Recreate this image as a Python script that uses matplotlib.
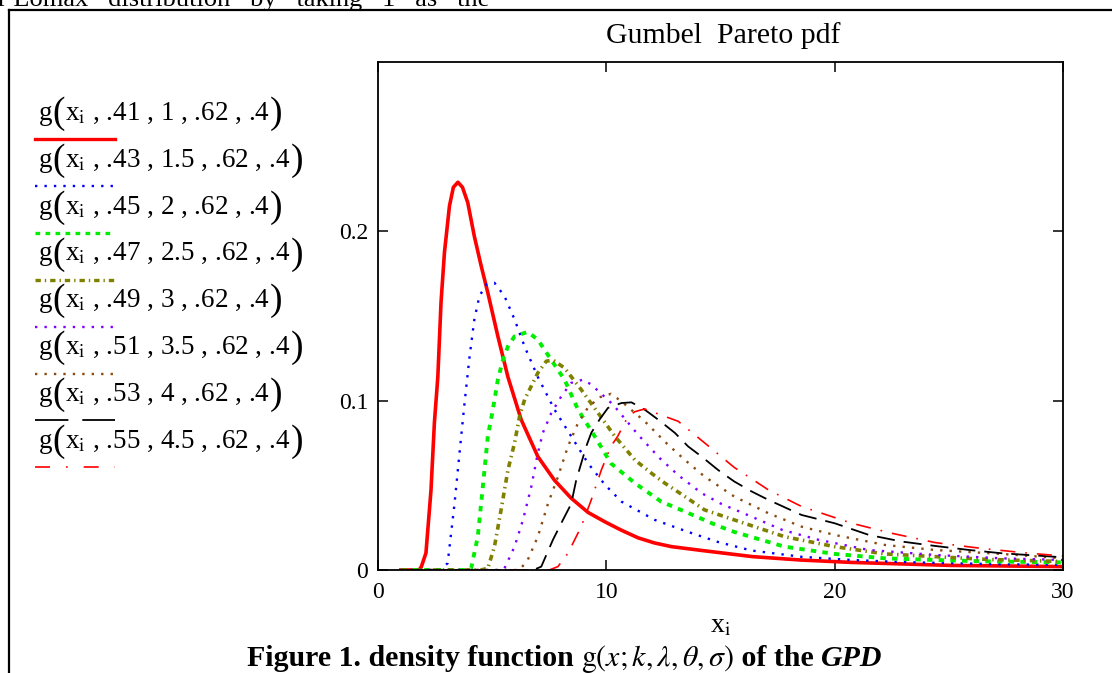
import matplotlib
matplotlib.use("Agg")
import matplotlib.pyplot as plt
from matplotlib.lines import Line2D

plt.rcParams['font.family'] = ['Liberation Serif', 'DejaVu Serif']
plt.rcParams['mathtext.fontset'] = 'stix'

W, H = 1112, 673

# ---------------- data ----------------
k_vals = ['.41', '.43', '.45', '.47', '.49', '.51', '.53', '.55']
lam_vals = ['1', '1.5', '2', '2.5', '3', '3.5', '4', '4.5']
theta_val = '.62'
sigma_val = '.4'

x1 = [1.0, 1.8, 1.9, 2.1, 2.32, 2.47, 2.62, 2.76, 2.91, 3.13, 3.3, 3.5, 3.7, 3.93, 4.22, 4.52, 4.81,
      5.25, 5.69, 6.27, 7.0, 7.73, 8.46, 9.2, 9.93, 10.66, 11.39, 12.1, 12.85, 14.2, 16.4, 18.5,
      20.7, 22.9, 25.1, 27.3, 30.0]
y1 = [0, 0, 0.002, 0.01, 0.047, 0.087, 0.114, 0.158, 0.1875, 0.215, 0.226, 0.229, 0.226, 0.217,
      0.197, 0.1795, 0.1637, 0.138, 0.114, 0.0888, 0.067, 0.053, 0.0424, 0.034, 0.0285, 0.0235,
      0.019, 0.016, 0.0138, 0.0115, 0.0079, 0.0059, 0.0045, 0.0036, 0.0027, 0.0024, 0.002]

x2 = [1.0, 2.7, 3.05, 3.35, 3.57, 3.79, 4.01, 4.22, 4.44, 4.74, 5.1, 5.54, 5.98, 6.42, 7.0, 7.73,
      8.46, 9.2, 9.93, 10.66, 12.12, 13.58, 14.9, 16.36, 18.55, 20.75, 22.94, 25.1, 27.3, 30.0]
y2 = [0, 0, 0.004, 0.039, 0.069, 0.0986, 0.126, 0.148, 0.1617, 0.1686, 0.1696, 0.1617, 0.148,
      0.132, 0.114, 0.0947, 0.079, 0.063, 0.0505, 0.0404, 0.0296, 0.0225, 0.0165, 0.0115,
      0.0078, 0.0059, 0.0047, 0.004, 0.0034, 0.003]

x3 = [1.0, 3.8, 4.08, 4.37, 4.59, 4.81, 5.03, 5.25, 5.47, 5.69, 5.98, 6.56, 7.0, 7.59, 8.17, 8.76,
      9.49, 10.2, 11.25, 12.4, 13.44, 14.9, 15.6, 17.8, 20.0, 22.2, 24.4, 26.6, 30.0]
y3 = [0, 0, 0.001, 0.0197, 0.049, 0.079, 0.0947, 0.1124, 0.124, 0.132, 0.138, 0.1406, 0.136,
      0.124, 0.1124, 0.0947, 0.079, 0.063, 0.0513, 0.0404, 0.0345, 0.026, 0.0225, 0.0138,
      0.0095, 0.0069, 0.0059, 0.0051, 0.0045]

x4 = [1.0, 4.5, 4.81, 5.1, 5.39, 5.69, 5.98, 6.2, 6.42, 6.71, 7.0, 7.37, 7.66, 8.17, 8.9, 9.64,
      10.37, 11.25, 11.97, 12.56, 13.44, 14.3, 15.6, 17.8, 20.0, 22.2, 24.4, 26.6, 30.0]
y4 = [0, 0, 0.001, 0.0138, 0.0355, 0.059, 0.075, 0.0907, 0.1006, 0.1085, 0.1164, 0.1233, 0.124,
      0.1193, 0.1065, 0.0927, 0.079, 0.065, 0.0572, 0.0513, 0.0434, 0.0355, 0.0296, 0.0197,
      0.0138, 0.0095, 0.0079, 0.0063, 0.005]

x5 = [1.0, 5.2, 5.54, 5.98, 6.35, 6.71, 7.0, 7.22, 7.59, 8.03, 8.46, 8.98, 9.34, 10.3, 11.39,
      12.34, 13.15, 14.17, 15.04, 16.36, 17.7, 19.3, 21.5, 24.4, 27.3, 30.0]
y5 = [0, 0, 0.001, 0.0138, 0.0296, 0.049, 0.069, 0.081, 0.0927, 0.1026, 0.1105, 0.1124, 0.1095,
      0.0976, 0.0799, 0.066, 0.056, 0.0454, 0.039, 0.0315, 0.0237, 0.0178, 0.0118, 0.0089,
      0.0069, 0.0059]

x6 = [1.0, 6.2, 6.56, 7.0, 7.44, 7.88, 8.32, 8.76, 9.2, 9.7, 10.2, 10.66, 11.68, 12.7, 13.44,
      14.3, 15.6, 17.1, 18.55, 20.0, 22.2, 24.4, 27.3, 30.0]
y6 = [0, 0, 0.006, 0.0197, 0.039, 0.055, 0.073, 0.0868, 0.096, 0.102, 0.104, 0.0996, 0.0878,
      0.074, 0.065, 0.0552, 0.0434, 0.0335, 0.0256, 0.0207, 0.0148, 0.0118, 0.0095, 0.0069]

x7 = [1.0, 6.8, 7.15, 7.66, 8.1, 8.46, 8.68, 8.9, 9.12, 9.34, 9.7, 10.07, 10.66, 11.1, 11.68,
      12.3, 13.0, 13.58, 14.17, 14.9, 15.6, 16.36, 17.1, 18.55, 20.0, 21.5, 22.94, 24.4, 25.9,
      27.3, 30.0]
y7 = [0, 0, 0.002, 0.0178, 0.0296, 0.039, 0.053, 0.063, 0.073, 0.081, 0.0888, 0.0957, 0.0986,
      0.099, 0.0947, 0.0885, 0.081, 0.073, 0.067, 0.059, 0.0523, 0.0464, 0.0414, 0.0325, 0.0276,
      0.0207, 0.0168, 0.0142, 0.0118, 0.0099, 0.0075]

x8 = [1.0, 7.5, 7.88, 8.32, 8.9, 9.34, 9.78, 10.2, 10.5, 10.95, 11.25, 11.68, 13.15, 14.4, 15.6,
      17.1, 18.55, 20.75, 22.5, 24.4, 26.4, 28.5, 30.0]
y8 = [0, 0, 0.002, 0.0099, 0.0256, 0.0414, 0.059, 0.073, 0.079, 0.0907, 0.0935, 0.0951, 0.0878,
      0.074, 0.0606, 0.0473, 0.0375, 0.0276, 0.0217, 0.0162, 0.0128, 0.0099, 0.0083]

xs = [x1, x2, x3, x4, x5, x6, x7, x8]
ys = [y1, y2, y3, y4, y5, y6, y7, y8]

x_ticks = [0, 10, 20, 30]
x_ticklabels = ['0', '10', '20', '30']
y_ticks = [0, 0.1, 0.2]
y_ticklabels = ['0', '0.1', '0.2']

title_text = 'Gumbel  Pareto pdf'
xlabel_text = r'x$_{\mathrm{i}}$'
page_text = 'r Lomax   distribution   by   taking   1   as   the'

# ---------------- styles ----------------
styles = [
    dict(color='#ff0000', lw=2.6, ls='-'),
    dict(color='#0000ff', lw=1.7, ls=(0, (1, 3))),
    dict(color='#00ee00', lw=2.8, ls=(0, (1.4, 1.6))),
    dict(color='#808000', lw=2.6, ls=(0, (1.6, 1.2, 0.4, 1.2))),
    dict(color='#8000ff', lw=1.7, ls=(0, (1, 3))),
    dict(color='#8b4a10', lw=1.7, ls=(0, (1, 3))),
    dict(color='#000000', lw=1.3, ls=(0, (10, 5))),
    dict(color='#ff0000', lw=1.2, ls=(0, (9, 6, 1, 6))),
]
legend_ls = [
    '-', (0, (1, 3)), (0, (1.4, 1.6)), (0, (1.6, 1.2, 0.4, 1.2)), (0, (1, 3)), (0, (1, 3)),
    (0, (18.5, 7.7)), (0, (9, 9.6, 1, 9.6)),
]

fig = plt.figure(figsize=(W / 100, H / 100), dpi=100)


def fx(px):
    return px / W


def fy(py):
    return 1 - py / H


ax = fig.add_axes([fx(378), fy(570), fx(1063) - fx(378), fy(62) - fy(570)])
for x, y, st in zip(xs, ys, styles):
    ax.plot(x, y, color=st['color'], lw=st['lw'], linestyle=st['ls'])

ax.set_xlim(0, 30)
ax.set_ylim(0, 0.3)
ax.set_xticks(x_ticks)
ax.set_xticklabels(x_ticklabels)
ax.set_yticks(y_ticks)
ax.set_yticklabels(y_ticklabels)
ax.tick_params(direction='in', length=7, width=1.1, top=True, right=True, labelsize=17)
ax.tick_params(axis='x', pad=9)
ax.tick_params(axis='y', pad=7)
for s in ax.spines.values():
    s.set_linewidth(1.3)

fig.text(fx(723), fy(43), title_text, fontsize=21.5, ha='center', va='baseline')
fig.text(fx(721), fy(632), xlabel_text, fontsize=20, ha='center', va='baseline')

renderer = fig.canvas.get_renderer()


def place_row(x0, base_y, parts):
    """parts: list of (text, fontsize, dy_px, kwargs); laid out left to right on a baseline."""
    cur = x0
    for s, size, dy, kw in parts:
        t = fig.text(fx(cur), fy(base_y + dy), s, fontsize=size, va='baseline', ha='left',
                     math_fontfamily='stix', **kw)
        cur += t.get_window_extent(renderer).width
    return cur


# ---------------- legend (Mathcad style) ----------------
for i in range(8):
    base = 120 + 46.8 * i
    ly = 139 + 46.9 * i
    body = (xlabel_text + ' , ' + k_vals[i] + ' , ' + lam_vals[i] + ' , ' + theta_val + ' , '
            + sigma_val)
    place_row(39, base, [('g', 19.5, 0, {}), ('(', 27, 3, {}), (body, 19.5, 0, {}),
                         (')', 27, 3, {})])
    st = styles[i]
    fig.add_artist(Line2D([fx(35), fx(115)], [fy(ly), fy(ly)], color=st['color'],
                          lw=min(st['lw'], 2.4), linestyle=legend_ls[i]))

# ---------------- surrounding page elements ----------------
fig.add_artist(Line2D([fx(9), fx(1112)], [fy(10), fy(10)], color='black', lw=1.6))
fig.add_artist(Line2D([fx(9), fx(9)], [fy(10), fy(673)], color='black', lw=1.6))
fig.text(fx(-2), fy(6), page_text, fontsize=19, va='baseline', ha='left')

# caption in pieces
pieces = [
    ('Figure 1. density function ', dict(fontweight='bold')),
    (r'$\mathrm{g}(x;k,\lambda,\theta,\sigma)$', dict()),
    (' of the ', dict(fontweight='bold')),
    ('GPD', dict(fontweight='bold', fontstyle='italic')),
]
texts = [fig.text(0, fy(666), s, fontsize=21.5, va='baseline', ha='left',
                  math_fontfamily='stix', **kw) for s, kw in pieces]
widths = [t.get_window_extent(renderer).width for t in texts]
cur = 565 - sum(widths) / 2
for t, w in zip(texts, widths):
    t.set_x(fx(cur))
    cur += w

fig.savefig('out.png', dpi=100)
